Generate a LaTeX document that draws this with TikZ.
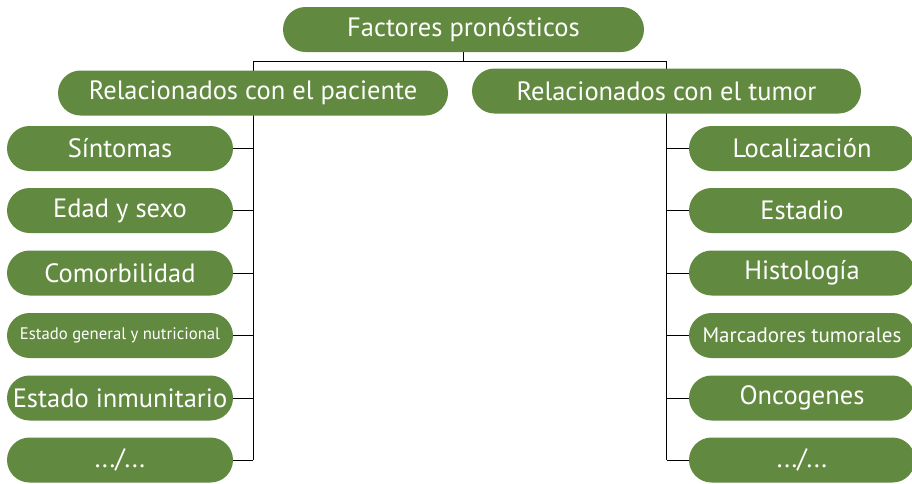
\documentclass[tikz,border=0pt]{standalone}
\usepackage{fontspec}
\setmainfont{PT Sans}
\usetikzlibrary{backgrounds}
\definecolor{hoja}{RGB}{98,137,64}
\tikzset{
  caja/.style={fill=hoja, text=white, rounded corners=22.5pt, minimum height=45pt, inner sep=0pt, font=\fontsize{26.5}{28}\selectfont},
  rama/.style={draw=black!85, line width=1.2pt}
}
\begin{document}
\begin{tikzpicture}[x=1pt,y=-1pt]
      \useasboundingbox (0,0) rectangle (912,483);
      \node[caja, minimum width=361pt] (fp) at (463.5,29.5) {Factores pronósticos};
      \node[caja, minimum width=390pt] (pac) at (253,93) {Relacionados con el paciente};
      \node[caja, minimum width=389pt] (tum) at (666.5,91) {Relacionados con el tumor};
      \node[caja, minimum width=226pt] (p1) at (120,148.5) {Síntomas};
      \node[caja, minimum width=226pt] (p2) at (120,210.5) {Edad y sexo};
      \node[caja, minimum width=226pt] (p3) at (120,273) {Comorbilidad};
      \node[caja, minimum width=226pt, font=\fontsize{16.7}{18}\selectfont] (p4) at (120,335.5) {Estado general y nutricional};
      \node[caja, minimum width=226pt] (p5) at (120,398) {Estado inmunitario};
      \node[caja, minimum width=226pt] (p6) at (120,460) {.../...};
      \node[caja, minimum width=226pt] (t1) at (802,148.5) {Localización};
      \node[caja, minimum width=226pt] (t2) at (802,210.5) {Estadio};
      \node[caja, minimum width=226pt] (t3) at (802,273) {Histología};
      \node[caja, minimum width=226pt, font=\fontsize{21}{23}\selectfont] (t4) at (802,335.5) {Marcadores tumorales};
      \node[caja, minimum width=226pt] (t5) at (802,398) {Oncogenes};
      \node[caja, minimum width=226pt] (t6) at (802,460) {.../...};
      \begin{scope}[on background layer, rama]
        \draw (fp.south) -- ++(0,9) coordinate (bus);
        \draw (pac.center |- bus) -- (tum.center |- bus);
        \draw (pac.center |- bus) -- (pac.center |- p6);
        \draw (tum.center |- bus) -- (tum.center |- t6);
        \draw (p1.east) -- (pac.center |- p1);
        \draw (p2.east) -- (pac.center |- p2);
        \draw (p3.east) -- (pac.center |- p3);
        \draw (p4.east) -- (pac.center |- p4);
        \draw (p5.east) -- (pac.center |- p5);
        \draw (p6.east) -- (pac.center |- p6);
        \draw (t1.west) -- (tum.center |- t1);
        \draw (t2.west) -- (tum.center |- t2);
        \draw (t3.west) -- (tum.center |- t3);
        \draw (t4.west) -- (tum.center |- t4);
        \draw (t5.west) -- (tum.center |- t5);
        \draw (t6.west) -- (tum.center |- t6);
      \end{scope}
    \end{tikzpicture}
\end{document}
